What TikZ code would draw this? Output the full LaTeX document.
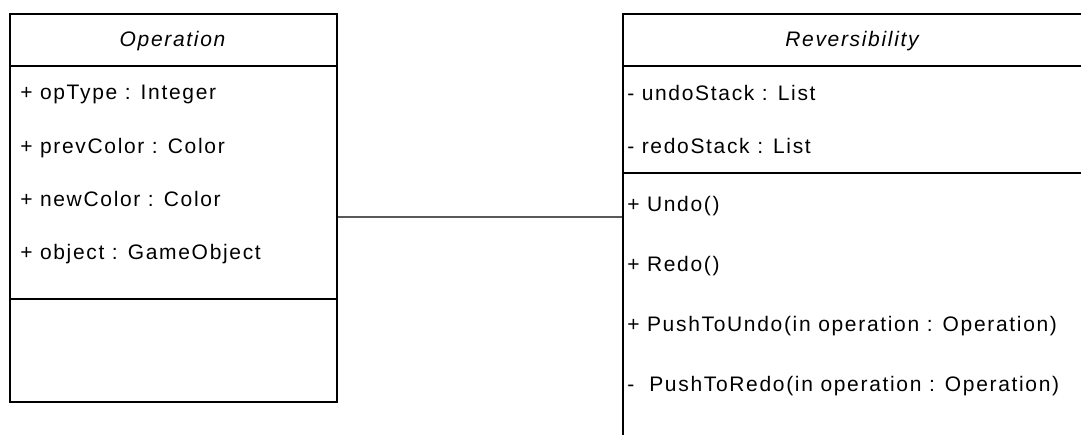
\documentclass[tikz,border=0pt]{standalone}
\usepackage{fontspec}
\setmainfont{Liberation Sans}[LetterSpace=8]
\usepackage{xcolor}

\tikzset{
  classbox/.style={draw,rectangle,anchor=north west,inner sep=0,line width=1.5pt},
  member/.style={anchor=base west,inner sep=0,font=\fontsize{15.75}{19}\selectfont},
  title/.style={anchor=base,inner sep=0,font=\fontsize{15.75}{19}\selectfont\itshape},
  link/.style={line width=1.4pt,draw=black!65}
}

\begin{document}
\begin{tikzpicture}[x=0.75pt,y=-0.75pt]
			\useasboundingbox (0,0) rectangle (1081,435);
			\clip (0,0) rectangle (1081,435);
			% class Operation
			\node[classbox,minimum width=245.25pt,minimum height=291pt] (op) at (9,13) {};
			\draw[line width=1.5pt] (op.west |- 0,66)--(op.east |- 0,66);
			\draw[line width=1.5pt] (op.west |- 0,299)--(op.east |- 0,299);
			\node[title] (opname) at (172.5,47) {Operation};
			\node[member] (optype) at (20,99) {+ opType : Integer};
			\node[member] (prevcol) at (20,153) {+ prevColor : Color};
			\node[member] (newcol) at (20,206) {+ newColor : Color};
			\node[member] (obj) at (20,259) {+ object : GameObject};
			% class Reversibility
			\node[classbox,minimum width=345.75pt,minimum height=337.5pt] (rev) at (622,13) {};
			\draw[line width=1.5pt] (rev.west |- 0,66)--(rev.east |- 0,66);
			\draw[line width=1.5pt] (rev.west |- 0,173)--(rev.east |- 0,173);
			\node[title] (revname) at (852,47) {Reversibility};
			\node[member] (undost) at (627,100) {- undoStack : List};
			\node[member] (redost) at (627,153) {- redoStack : List};
			\node[member] (undo) at (627,211) {+ Undo()};
			\node[member] (redo) at (627,271) {+ Redo()};
			\node[member] (pushu) at (627,331) {+ PushToUndo(in operation : Operation)};
			\node[member] (pushr) at (627,391) {- ~PushToRedo(in operation : Operation)};
			% association
			\draw[link] (op.east |- 0,217)--(rev.west |- 0,217);
		\end{tikzpicture}
\end{document}
